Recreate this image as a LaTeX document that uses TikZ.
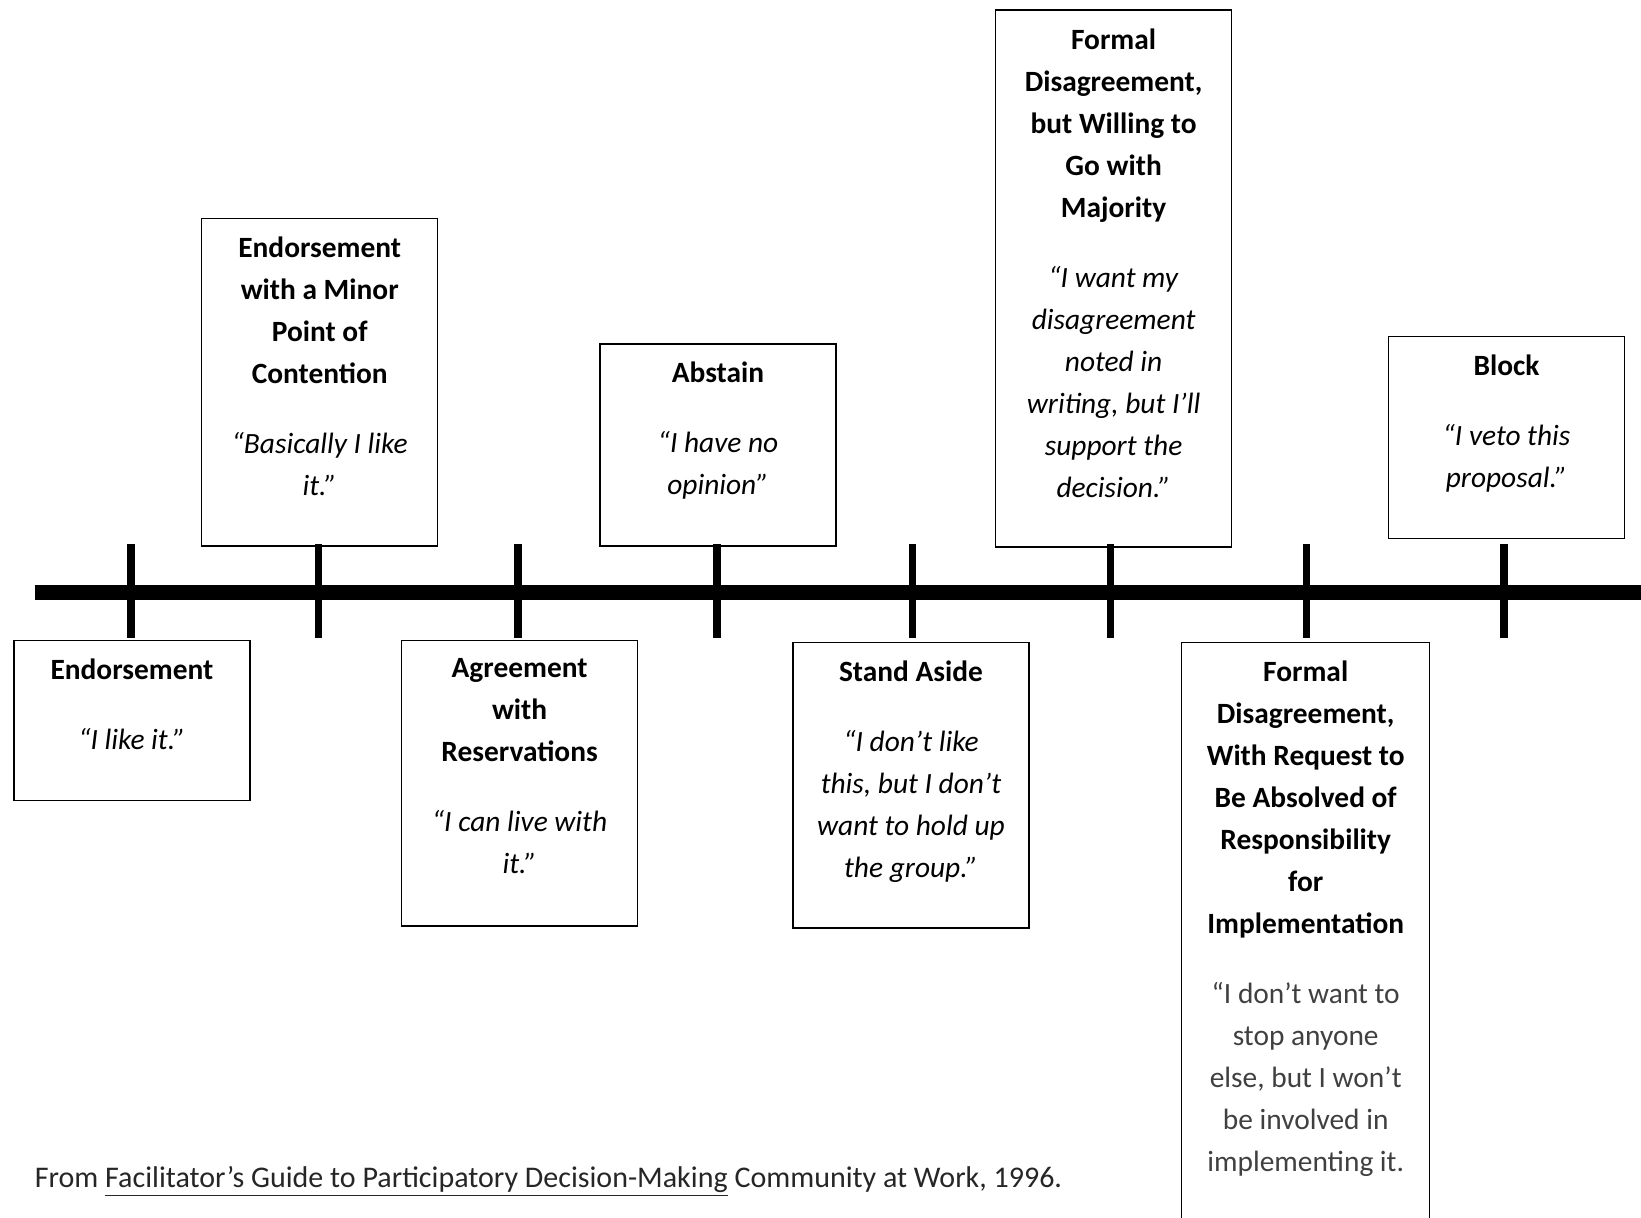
\documentclass[tikz,border=0pt]{standalone}
\usepackage{fontspec}
\setmainfont{Carlito}
\usetikzlibrary{positioning}

\tikzset{
  card/.style  = {draw, line width=0.75pt, inner sep=0pt, anchor=north, minimum width=118pt},
  words/.style = {align=center, inner sep=0pt, font=\fontsize{14.7}{21}\selectfont},
  tick/.style  = {line width=3.7pt},
  axis/.style  = {line width=7.5pt},
}

\begin{document}
\begin{tikzpicture}[x=0.5pt, y=-0.5pt]
\useasboundingbox (0,0) rectangle (1641,1218);

% the time line and its marks
\coordinate (L) at (34.5,592);
\coordinate (R) at (1641,592);
\coordinate (k1) at (130.8,592);
\coordinate (k2) at (318.2,592);
\coordinate (k3) at (518.1,592);
\coordinate (k4) at (716.9,592);
\coordinate (k5) at (912.6,592);
\coordinate (k6) at (1110.4,592);
\coordinate (k7) at (1306.2,592);
\coordinate (k8) at (1504.0,592);

\draw[axis] (L) -- (R);
\draw[tick] (k1) ++(0,-48) -- ++(0,94);
\draw[tick] (k2) ++(0,-48) -- ++(0,94);
\draw[tick] (k3) ++(0,-48) -- ++(0,94);
\draw[tick] (k4) ++(0,-48) -- ++(0,94);
\draw[tick] (k5) ++(0,-48) -- ++(0,94);
\draw[tick] (k6) ++(0,-48) -- ++(0,94);
\draw[tick] (k7) ++(0,-48) -- ++(0,94);
\draw[tick] (k8) ++(0,-48) -- ++(0,94);

% boxes
\node (endo)     [card, minimum height=80pt]    at (131.9,639.5) {};
\node (minor)    [card, minimum height=163.8pt] at (319.7,217.7) {};
\node (agree)    [card, minimum height=142.9pt] at (519.6,639.5) {};
\node (abstain)  [card, minimum height=101pt]   at (718,343.3)   {};
\node (aside)    [card, minimum height=142.9pt] at (911,641.6)   {};
\node (willing)  [card, minimum height=268.5pt] at (1113.6,9.4)  {};
\node (absolved) [card, minimum height=300pt, minimum width=124pt] at (1305.7,641.6) {};
\node (block)    [card, minimum height=101pt]   at (1506.5,336)  {};

% what each box says
\node (endo-t) [words, below = 9.3pt of endo.north]
  {\textbf{Endorsement}\\[14pt]
   \textit{“I like it.”}};
\node (minor-t) [words, below = 9.3pt of minor.north]
  {\textbf{Endorsement}\\ \textbf{with a Minor}\\ \textbf{Point of}\\ \textbf{Contention}\\[14pt]
   \textit{“Basically I like}\\ \textit{it.”}};
\node (agree-t) [words, below = 9.3pt of agree.north]
  {\textbf{Agreement}\\ \textbf{with}\\ \textbf{Reservations}\\[14pt]
   \textit{“I can live with}\\ \textit{it.”}};
\node (abstain-t) [words, below = 9.3pt of abstain.north]
  {\textbf{Abstain}\\[14pt]
   \textit{“I have no}\\ \textit{opinion”}};
\node (aside-t) [words, below = 9.3pt of aside.north]
  {\textbf{Stand Aside}\\[14pt]
   \textit{“I don’t like}\\ \textit{this, but I don’t}\\ \textit{want to hold up}\\ \textit{the group.”}};
\node (willing-t) [words, below = 9.3pt of willing.north]
  {\textbf{Formal}\\ \textbf{Disagreement,}\\ \textbf{but Willing to}\\ \textbf{Go with}\\ \textbf{Majority}\\[14pt]
   \textit{“I want my}\\ \textit{disagreement}\\ \textit{noted in}\\ \textit{writing, but I’ll}\\ \textit{support the}\\ \textit{decision.”}};
\node (absolved-t) [words, below = 9.3pt of absolved.north]
  {\textbf{Formal}\\ \textbf{Disagreement,}\\ \textbf{With Request to}\\ \textbf{Be Absolved of}\\ \textbf{Responsibility}\\ \textbf{for}\\ \textbf{Implementation}\\[14pt]
   \textcolor{black!75}{“I don’t want to}\\ \textcolor{black!75}{stop anyone}\\ \textcolor{black!75}{else, but I won’t}\\ \textcolor{black!75}{be involved in}\\ \textcolor{black!75}{implementing it.}};
\node (block-t) [words, below = 9.3pt of block.north]
  {\textbf{Block}\\[14pt]
   \textit{“I veto this}\\ \textit{proposal.”}};

% source line
\node (src) [words, anchor=base west, font=\fontsize{15}{21}\selectfont, text=black!85] at (34.5,1187)
  {From \underline{Facilitator’s Guide to Participatory Decision-Making} Community at Work, 1996.};
\end{tikzpicture}
\end{document}
